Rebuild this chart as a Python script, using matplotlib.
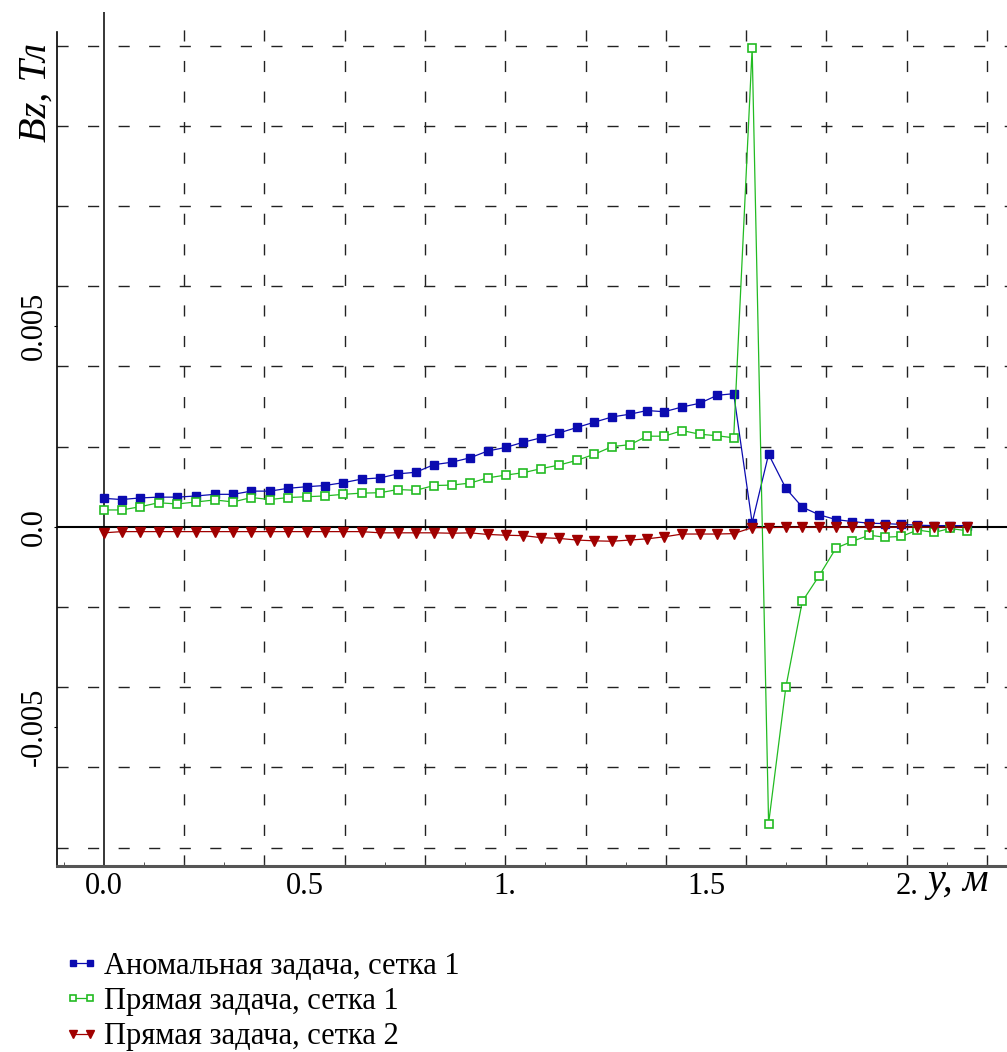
import matplotlib
matplotlib.use("Agg")
import matplotlib.pyplot as plt
import numpy as np

# node positions along y, m (mesh is not uniform)
y_pos = [0.0, 0.044, 0.090, 0.136, 0.183, 0.230, 0.276, 0.322, 0.367, 0.413,
         0.459, 0.505, 0.550, 0.596, 0.642, 0.688, 0.732, 0.777, 0.822, 0.866,
         0.912, 0.956, 1.001, 1.045, 1.089, 1.134, 1.179, 1.222, 1.266, 1.311,
         1.353, 1.396, 1.441, 1.484, 1.528, 1.569, 1.615, 1.656, 1.699, 1.740,
         1.782, 1.824, 1.865, 1.907, 1.946, 1.987, 2.027, 2.069, 2.108, 2.150]

# Bz, T
bz_anom_1 = [0.00071, 0.00068, 0.00072, 0.00074, 0.00074, 0.00077, 0.00081, 0.00081, 0.00089, 0.00089,
             0.00096, 0.00100, 0.00103, 0.00110, 0.00119, 0.00122, 0.00132, 0.00136, 0.00155, 0.00161,
             0.00172, 0.00189, 0.00198, 0.00211, 0.00222, 0.00234, 0.00248, 0.00261, 0.00274, 0.00281,
             0.00290, 0.00287, 0.00299, 0.00308, 0.00328, 0.00332, 0.00010, 0.00181, 0.00096, 0.00049,
             0.00030, 0.00018, 0.00013, 0.00009, 0.00008, 0.00006, 0.00004, 0.00003, 0.00003, 0.00003]

bz_direct_1 = [0.00042, 0.00042, 0.00050, 0.00060, 0.00057, 0.00062, 0.00067, 0.00062, 0.00073, 0.00068,
               0.00073, 0.00075, 0.00077, 0.00081, 0.00084, 0.00085, 0.00093, 0.00091, 0.00103, 0.00104,
               0.00109, 0.00122, 0.00129, 0.00135, 0.00145, 0.00154, 0.00166, 0.00181, 0.00200, 0.00205,
               0.00226, 0.00226, 0.00240, 0.00231, 0.00227, 0.00222, 0.01194, -0.00740, -0.00400, -0.00186,
               -0.00122, -0.00053, -0.00036, -0.00021, -0.00026, -0.00024, -0.00008, -0.00014, -0.00004, -0.00010]

bz_direct_2 = [-0.00015, -0.00012, -0.00012, -0.00012, -0.00012, -0.00012, -0.00012, -0.00012, -0.00012, -0.00012,
               -0.00012, -0.00012, -0.00012, -0.00012, -0.00012, -0.00015, -0.00015, -0.00015, -0.00015, -0.00016,
               -0.00015, -0.00019, -0.00021, -0.00022, -0.00027, -0.00029, -0.00033, -0.00035, -0.00036, -0.00033,
               -0.00030, -0.00025, -0.00018, -0.00018, -0.00018, -0.00017, -0.00002, -0.00002, -0.00001, -0.00001,
               -0.00001, -0.00001, -0.00001, -0.00001, -0.00001, -0.00001, -0.00001, -0.00001, -0.00001, -0.00001]

labels = ["Аномальная задача, сетка 1", "Прямая задача, сетка 1", "Прямая задача, сетка 2"]

x_ticks = [0.0, 0.5, 1.0, 1.5, 2.0]
x_ticklabels = ["0.0", "0.5", "1.", "1.5", "2."]
y_ticks = [-0.005, 0.0, 0.005]
y_ticklabels = ["-0.005", "0.0", "0.005"]

serif = ["Liberation Serif", "DejaVu Serif"]
plt.rcParams["font.family"] = serif

fig = plt.figure(figsize=(10.07, 10.52), dpi=100)
ax = fig.add_axes([57 / 1007, 1 - 866 / 1052, 1 - 57 / 1007, (866 - 12) / 1052])
ax.set_xlim(-0.117, 2.25)
ax.set_ylim(-0.00846, 0.01284)

# dashed grid, maple style
for gx in np.arange(0.2, 2.3, 0.2):
    ax.axvline(gx, color="#222222", lw=1.0, dashes=(8, 14), zorder=0)
for gy in np.arange(-0.008, 0.0125, 0.002):
    if abs(gy) > 1e-9:
        ax.axhline(gy, color="#222222", lw=1.0, dashes=(8, 14), zorder=0)
ax.axhline(0, color="black", lw=1.5, zorder=1)
ax.axvline(0, color="black", lw=1.1, zorder=1)

ax.plot(y_pos, bz_anom_1, color="#0B0BB0", lw=0.9, marker="s", ms=5.5,
        mfc="#0B0BB0", mec="#0B0BB0", label=labels[0], zorder=3)
ax.plot(y_pos, bz_direct_1, color="#22BB22", lw=0.9, marker="s", ms=5.5,
        mfc="white", mec="#22BB22", mew=1.2, label=labels[1], zorder=3)
ax.plot(y_pos, bz_direct_2, color="#A00000", lw=0.9, marker="v", ms=7,
        mfc="#A00000", mec="#A00000", label=labels[2], zorder=3)

for s in ["top", "right"]:
    ax.spines[s].set_visible(False)
ax.spines["left"].set_color("black")
ax.spines["left"].set_linewidth(1.2)
ax.spines["left"].set_bounds(-0.00846, 0.01234)
ax.spines["bottom"].set_color("#555555")
ax.spines["bottom"].set_linewidth(2.2)

ax.set_xticks(x_ticks)
ax.set_xticklabels(x_ticklabels, fontsize=22)
ax.set_xticks(np.arange(-0.1, 2.25, 0.1), minor=True)
ax.tick_params(axis="x", which="major", length=0, pad=4)
ax.tick_params(axis="x", which="minor", length=3, direction="in", color="#333333")
ax.set_yticks(y_ticks)
ax.set_yticklabels(y_ticklabels, fontsize=22, rotation=90, va="center")
ax.tick_params(axis="y", which="major", length=2, pad=4)

fig.text(0.036, 0.912, "Bz, Тл", rotation=90, fontsize=29, style="italic",
         ha="center", va="center", family=serif)
fig.text(927 / 1007, 1 - 882 / 1052, "y, м", fontsize=29, style="italic",
         ha="left", va="center", family=serif)

fig.legend(loc="upper left", bbox_to_anchor=(64 / 1007, 1 - 952 / 1052),
           frameon=False, fontsize=22, numpoints=2, handlelength=1.15,
           handletextpad=0.15, labelspacing=0.2, borderpad=0, borderaxespad=0,
           markerscale=0.9)

fig.savefig("out.png", dpi=100)
